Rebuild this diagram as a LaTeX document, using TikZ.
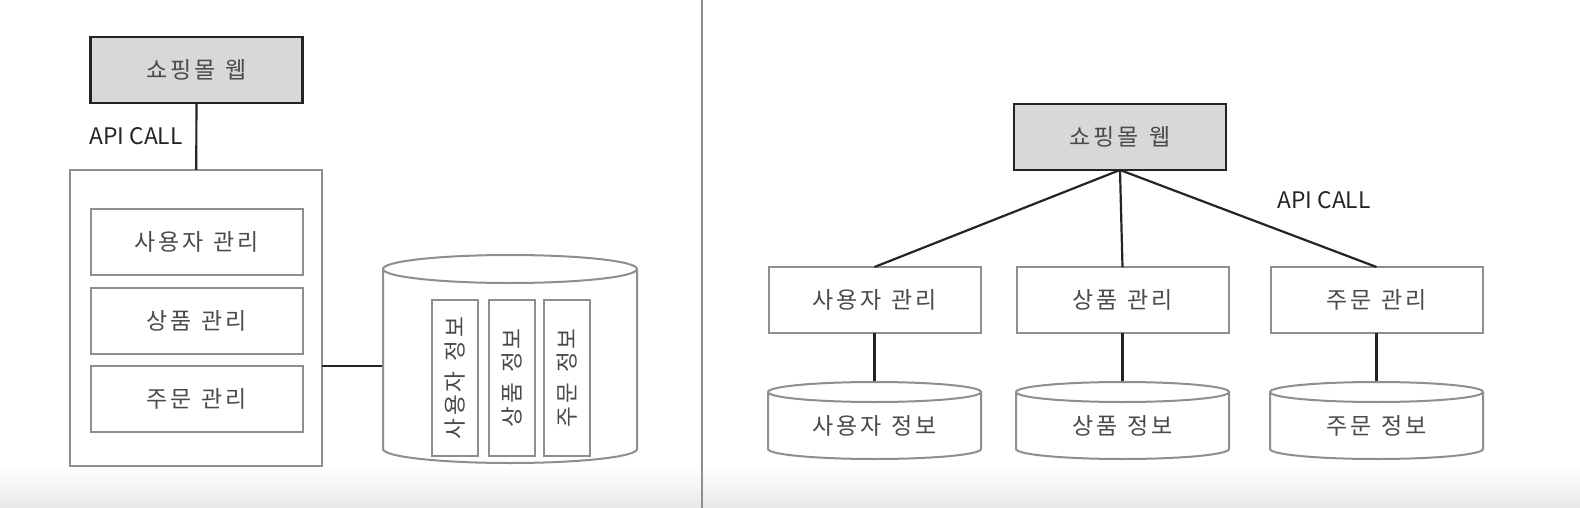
\documentclass[tikz,border=0pt]{standalone}
\usepackage{fontspec}
\setmainfont{Noto Sans CJK KR}[LetterSpace=12,WordSpace=1.3]
\newfontfamily\apifont{Noto Sans CJK KR}
\usetikzlibrary{calc}
\definecolor{linedark}{HTML}{242424}
\definecolor{boxgray}{HTML}{8E8E8E}
\definecolor{webfill}{HTML}{D8D8D8}
\definecolor{txtgray}{HTML}{4A4A4A}

\begin{document}
\begin{tikzpicture}[x=.5pt,y=-.5pt,
every node/.style={inner sep=0pt,outer sep=0pt,text=txtgray,font=\fontsize{11.5}{13}\selectfont},
web/.style={draw=linedark,line width=1.4pt,fill=webfill,minimum width=106pt,minimum height=33pt},
svc/.style={draw=boxgray,line width=1pt,minimum width=106pt,minimum height=33pt},
frame/.style={draw=boxgray,line width=1pt,minimum width=126pt,minimum height=148pt},
col/.style={draw=boxgray,line width=1pt,rotate=90,minimum width=78pt,minimum height=23pt,font=\fontsize{11.3}{13}\selectfont},
store/.style={minimum width=127pt,minimum height=97pt},
api/.style={text=linedark,font=\apifont\fontsize{11.4}{14}\selectfont},
wire/.style={draw=linedark,line width=1.1pt},
dbline/.style={draw=boxgray,line width=1pt}]
\useasboundingbox(0,0)rectangle(1580,508);
\fill[white](0,0)rectangle(1580,508);
\fill[top color=white,bottom color=black!9](0,466)rectangle(1580,508);
\draw[boxgray,line width=1pt](702,0)--(702,508);
% left: one application with a single store
\node[web](webL)at(196.5,70){쇼핑몰 웹};
\node[api](apiL)at(136,136){API CALL};
\node[frame](appL)at(196,318){};
\node[svc](userL)at(196.5,242){사용자 관리};
\node[svc](prodL)at(196.5,320.5){상품 관리};
\node[svc](ordL)at(196.5,399){주문 관리};
\node[store](dbL)at(510,366){};
\draw[wire](webL)--(appL);\draw[wire](appL.east|-dbL.west)--(dbL.west);
\draw[dbline](dbL.north west)--($(dbL.south west)+(0,-14)$)arc[start angle=180,end angle=0,x radius=127,y radius=14]--(dbL.north east);
\draw[dbline,fill=white](dbL.north)ellipse[x radius=127,y radius=14];
\node[col](userinfoL)at(455,378){사용자 정보};
\node[col](prodinfoL)at(512,378){상품 정보};
\node[col](ordinfoL)at(567,378){주문 정보};
% right: one store per service
\node[web](webR)at(1120,137){쇼핑몰 웹};
\node[api](apiR)at(1324,200){API CALL};
\node[svc](userR)at(874.5,300){사용자 관리};
\node[svc](prodR)at(1122.5,300){상품 관리};
\node[svc](ordR)at(1376.5,300){주문 관리};
\node[store,minimum width=106.5pt,minimum height=33.5pt](userdbR)at(874.5,425.5){사용자 정보};
\node[store,minimum width=106.5pt,minimum height=33.5pt](proddbR)at(1122.5,425.5){상품 정보};
\node[store,minimum width=106.5pt,minimum height=33.5pt](orddbR)at(1376.5,425.5){주문 정보};
\draw[wire](webR.south)--(userR.north);\draw[wire](webR.south)--(prodR.north);\draw[wire](webR.south)--(ordR.north);
\draw[wire](userR)--(userdbR.north);\draw[wire](prodR)--(proddbR.north);\draw[wire](ordR)--(orddbR.north);
\draw[dbline](userdbR.north west)--($(userdbR.south west)+(0,-10)$)arc[start angle=180,end angle=0,x radius=106.5,y radius=10]--(userdbR.north east);
\draw[dbline,fill=white](userdbR.north)ellipse[x radius=106.5,y radius=10];
\draw[dbline](proddbR.north west)--($(proddbR.south west)+(0,-10)$)arc[start angle=180,end angle=0,x radius=106.5,y radius=10]--(proddbR.north east);
\draw[dbline,fill=white](proddbR.north)ellipse[x radius=106.5,y radius=10];
\draw[dbline](orddbR.north west)--($(orddbR.south west)+(0,-10)$)arc[start angle=180,end angle=0,x radius=106.5,y radius=10]--(orddbR.north east);
\draw[dbline,fill=white](orddbR.north)ellipse[x radius=106.5,y radius=10];
\end{tikzpicture}
\end{document}
